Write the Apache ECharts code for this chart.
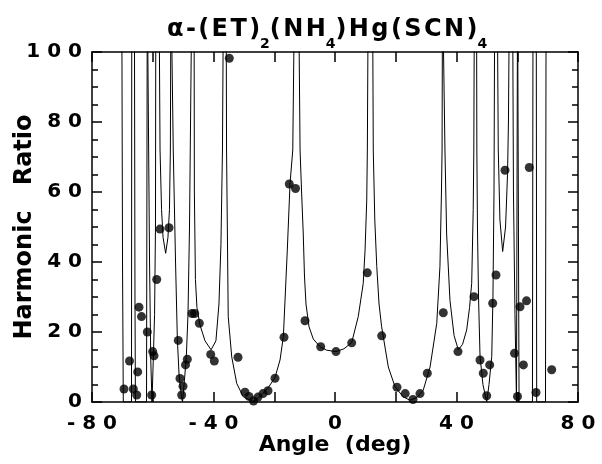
<!DOCTYPE html>
<html>
<head>
<meta charset="utf-8">
<script src="https://cdn.jsdelivr.net/npm/echarts@6/dist/echarts.min.js"></script>
<style>
  html, body { margin: 0; padding: 0; background: #fff; }
  #chart { width: 602px; height: 464px; }
</style>
</head>
<body>
<div id="chart"></div>
<script>
// fitted curve (values above 100 are clipped by the frame)
const curveX = [
  -70.2, -69.95, -69.7, -67.0, -66.9, -66.05, -65.85, -65.7, -62.05, -61.8,
  -61.45, -61.05, -60.65, -60.25, -59.9, -59.4, -59.1, -58.98, -57.95, -57.6,
  -57.1, -56.6, -55.75, -55.0, -54.5, -54.2, -54.0, -53.45, -53.25, -52.5,
  -51.9, -51.35, -50.55, -50.2, -49.4, -48.9, -48.4, -47.9, -47.65, -47.1,
  -46.4, -46.3, -45.95, -45.45, -44.45, -42.8, -40.8, -39.2, -38.2, -37.55,
  -37.05, -36.7, -35.85, -35.7, -35.15, -34.0, -32.35, -30.2, -27.0, -25.35,
  -23.7, -22.05, -19.75, -18.1, -17.0, -15.7, -14.8, -13.9, -13.3, -12.0,
  -11.5, -11.0, -10.45, -10.05, -9.55, -8.55, -7.15, -4.95, -2.75, 0.35,
  2.95, 5.5, 7.65, 9.3, 9.9, 10.45, 10.65, 10.95, 12.35, 12.6,
  13.1, 13.75, 14.5, 15.35, 17.55, 19.75, 22.4, 24.7, 27.0, 29.05,
  31.3, 33.5, 34.55, 35.05, 35.25, 35.4, 36.0, 36.2, 36.75, 37.85,
  39.2, 40.6, 42.0, 43.35, 44.3, 45.0, 45.5, 45.7, 45.9, 46.6,
  46.7, 46.9, 47.25, 47.75, 48.7, 49.95, 50.7, 51.6, 52.0, 52.35,
  52.6, 53.4, 53.75, 54.3, 55.2, 56.15, 56.8, 57.1, 57.45, 58.45,
  58.75, 59.25, 59.75, 60.1, 60.3, 60.6, 65.0, 65.2, 66.25, 66.4,
  69.3, 69.5
];
const curveY = [
  120, 40, 0, 0, 120, 120, 30, 0, 0, 120,
  120, 40, 12, 0, 10, 25, 50, 120, 120, 72,
  55, 47, 42.5, 47, 55, 72, 120, 120, 72, 40,
  18, 8, 1.5, 0, 8, 14, 25, 50, 72, 120,
  120, 60, 35, 27, 22, 17.5, 14.9, 17.5, 28, 45,
  72, 120, 120, 72, 24.4, 12.9, 5.3, 1.5, 0.2, 1.0,
  2.5, 4, 7, 12, 18.7, 43.4, 62.5, 72, 120, 120,
  72, 60, 48, 36, 28, 21.5, 18, 15.8, 14.8, 14.4,
  15.2, 17, 24.4, 33.9, 43.4, 57.7, 72, 120, 120, 72,
  52, 38.7, 28, 21.5, 10, 4.4, 1.5, 0.5, 1.3, 3.4,
  10, 22.5, 38.7, 60, 72, 120, 120, 72, 48, 29,
  19, 14.9, 16.5, 20.6, 27, 33.9, 55, 72, 120, 120,
  72, 50, 30, 13, 5, 0, 5, 13, 30, 60,
  120, 120, 72, 52, 43, 50, 65, 80, 120, 120,
  60, 25, 0, 120, 120, 0, 0, 120, 120, 0,
  0, 120
];

// measured harmonic ratios
const pointX = [
  -69.47, -67.65, -66.40, -65.28, -64.95, -64.53, -63.70, -61.79, -60.35, -60.02,
  -59.59, -58.70, -57.61, -54.65, -51.59, -51.03, -50.47, -50.04, -49.22, -48.62,
  -47.08, -46.19, -44.67, -40.92, -39.74, -34.80, -31.93, -29.63, -28.31, -26.83,
  -25.35, -23.70, -22.06, -19.75, -16.79, -15.05, -13.00, -9.88, -4.71, 0.33,
  5.50, 10.63, 15.37, 20.41, 23.11, 25.68, 27.98, 30.39, 35.65, 40.49,
  45.76, 47.74, 48.82, 49.94, 50.93, 51.92, 53.00, 55.97, 59.09, 60.08,
  60.91, 62.02, 63.05, 63.97, 66.17, 71.34
];
const pointY = [
  3.7, 11.7, 3.7, 2.0, 8.6, 27.1, 24.4, 20.0, 2.0, 14.4,
  13.2, 35.0, 49.4, 49.8, 17.6, 6.7, 2.0, 4.5, 10.6, 12.2,
  25.3, 25.3, 22.5, 13.6, 11.7, 98.2, 12.8, 2.8, 1.6, 0.3,
  1.4, 2.4, 3.2, 6.8, 18.5, 62.3, 61.0, 23.2, 15.8, 14.4,
  16.9, 36.9, 18.9, 4.2, 2.4, 0.7, 2.4, 8.2, 25.5, 14.4,
  30.1, 12.0, 8.2, 1.8, 10.6, 28.2, 36.3, 66.2, 13.9, 1.6,
  27.2, 10.6, 28.9, 67.0, 2.7, 9.2
];

const xLabels = [-80, -40, 0, 40, 80];
const yLabels = [0, 20, 40, 60, 80, 100];

const FONT = 'DejaVu Sans';
const spaced = v => String(v).split('').join(' ');
// the original title is set with wide letter spacing
const airy = s => s.split('').join('\u200A');

const chart = echarts.init(document.getElementById('chart'), null, { renderer: 'canvas' });

const frameLine = { show: true, onZero: false, lineStyle: { color: '#000', width: 1.5 } };
const tick = { show: true, inside: true, length: 10, lineStyle: { color: '#000', width: 1.5 } };

chart.setOption({
  animation: false,
  backgroundColor: '#fff',
  title: {
    left: 167,
    top: 18,
    padding: 0,
    text: '{m|' + airy('α-(ET)') + '}{s|2}{m|' + airy('(NH') + '}{s|4}{m|' + airy(')Hg(SCN)') + '}{s|4}',
    textStyle: {
      rich: {
        m: { fontFamily: FONT, fontWeight: 'bold', fontSize: 24, color: '#000', lineHeight: 29, verticalAlign: 'top' },
        s: { fontFamily: FONT, fontWeight: 'bold', fontSize: 14, color: '#000', lineHeight: 14, padding: [19, 0, 0, 0], verticalAlign: 'top' }
      }
    }
  },
  grid: { left: 92, right: 24, top: 52, bottom: 62, outerBoundsMode: 'none' },
  xAxis: [
    {
      type: 'value', min: -80, max: 80, interval: 20, position: 'bottom',
      axisLine: frameLine, axisTick: tick, splitLine: { show: false },
      axisLabel: {
        margin: 12, color: '#000', fontFamily: FONT, fontWeight: 'bold', fontSize: 20,
        formatter: v => xLabels.includes(v) ? spaced(v) : ''
      },
      name: 'Angle  (deg)', nameLocation: 'middle', nameGap: 32, nameMoveOverlap: false,
      nameTextStyle: { color: '#000', fontFamily: FONT, fontWeight: 'bold', fontSize: 22 }
    },
    {
      type: 'value', min: -80, max: 80, interval: 20, position: 'top',
      axisLine: frameLine, axisTick: tick, splitLine: { show: false }, axisLabel: { show: false }
    }
  ],
  yAxis: [
    {
      type: 'value', min: 0, max: 100, interval: 20, position: 'left',
      axisLine: frameLine, axisTick: tick, splitLine: { show: false },
      minorTick: { show: true, splitNumber: 4, length: 6, lineStyle: { color: '#000', width: 1.5 } },
      axisLabel: {
        margin: 10, color: '#000', fontFamily: FONT, fontWeight: 'bold', fontSize: 20,
        formatter: v => yLabels.includes(v) ? spaced(v) : ''
      },
      name: 'Harmonic   Ratio', nameLocation: 'middle', nameGap: 55, nameRotate: 90, nameMoveOverlap: false,
      nameTextStyle: { color: '#000', fontFamily: FONT, fontWeight: 'bold', fontSize: 24 }
    },
    {
      type: 'value', min: 0, max: 100, interval: 20, position: 'right',
      axisLine: frameLine, axisTick: tick, splitLine: { show: false },
      minorTick: { show: true, splitNumber: 4, length: 6, lineStyle: { color: '#000', width: 1.5 } },
      axisLabel: { show: false }
    }
  ],
  series: [
    {
      type: 'line',
      data: curveX.map((x, i) => [x, curveY[i]]),
      showSymbol: false,
      symbol: 'none',
      clip: true,
      lineStyle: { color: '#000', width: 1 },
      z: 2
    },
    {
      type: 'scatter',
      data: pointX.map((x, i) => [x, pointY[i]]),
      symbol: 'circle',
      symbolSize: 9,
      itemStyle: { color: '#000' },
      clip: false,
      z: 3
    }
  ]
});
</script>
</body>
</html>
